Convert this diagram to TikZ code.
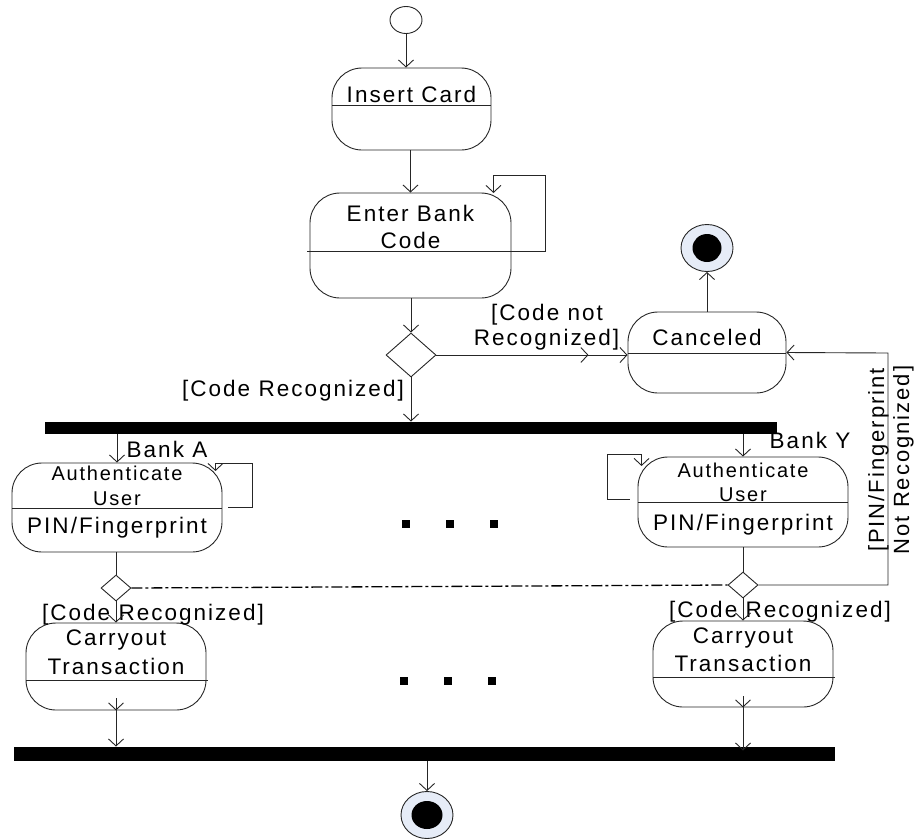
\documentclass[tikz,border=0pt]{standalone}
\usepackage{fontspec}
\setmainfont{Liberation Sans}[LetterSpace=9]
\usetikzlibrary{arrows.meta,shapes.geometric}
\definecolor{finfill}{HTML}{E6ECF7}
\definecolor{ln}{HTML}{262626}
\begin{document}
\begin{tikzpicture}[x=1pt,y=-1pt,
  every path/.style={line width=0.9pt},
  >={Straight Barb[length=7pt,width=15pt]},
  act/.style={draw=ln,line width=0.9pt,rounded corners=30pt,inner sep=0pt},
  txt/.style={inner sep=0pt,anchor=base,font=\fontsize{22.5pt}{27pt}\selectfont},
  stxt/.style={inner sep=0pt,anchor=base,font=\fontsize{20pt}{24pt}\selectfont},
  dec/.style={draw=ln,line width=0.9pt,diamond,inner sep=0pt,minimum width=30pt,minimum height=26pt},
  bar/.style={fill=black,draw=none,inner sep=0pt},
  dotbox/.style={fill=black,draw=none,inner sep=0pt,minimum size=8pt},
  fin/.style={draw=ln,line width=0.9pt,ellipse,fill=finfill,inner sep=0pt,minimum width=52pt,minimum height=47pt},
  dashdot/.style={black,line width=1.3pt,dash pattern=on 11pt off 3pt on 3pt off 3pt}
]
\useasboundingbox (0,0) rectangle (915,839);

% initial state
\node[draw=ln,line width=0.9pt,ellipse,inner sep=0pt,minimum width=32pt,minimum height=27pt] (init) at (406,20) {};

% Insert Card
\node[act,minimum width=159pt,minimum height=82pt] (insert) at (411.5,109) {};
\draw[ln] (332,105) -- (491,105);
\node[txt] (insertT) at (411.5,102) {Insert Card};

% Enter Bank Code
\node[act,minimum width=201pt,minimum height=105pt] (enter) at (410.5,245.5) {};
\draw[ln] (307,251) -- (511,251);
\node[txt] (enterT1) at (410.5,221) {Enter Bank};
\node[txt] (enterT2) at (410.5,248) {Code};

% decision 1
\node[dec,minimum width=50pt,minimum height=44pt] (d1) at (411,355) {};

% Canceled
\node[act,minimum width=158pt,minimum height=81pt] (cancel) at (707,352.5) {};
\draw[ln] (628,353) -- (786,353);
\node[txt] (cancelT) at (707,345) {Canceled};

% final state top
\node[fin] (fin1) at (707,248) {};
\fill[black] (fin1.center) ellipse [x radius=14.5pt,y radius=14pt];

% labels near decision 1
\node[txt] (cnr1) at (547,320) {[Code not};
\node[txt] (cnr2) at (546.5,345) {Recognized]};
\node[txt] (cr1) at (293,396) {[Code Recognized]};

% fork bar
\node[bar,minimum width=732pt,minimum height=12pt] (bar1) at (411,428) {};

% Authenticate A
\node[act,minimum width=210pt,minimum height=89pt] (authA) at (117,507.5) {};
\draw[ln] (12,508) -- (222,508);
\node[stxt] (authAT1) at (117,480) {Authenticate};
\node[stxt] (authAT2) at (117,505.5) {User};
\node[txt] (authAT3) at (117,533) {PIN/Fingerprint};
\node[txt] (bankA) at (167,457) {Bank A};

% Authenticate Y
\node[act,minimum width=210pt,minimum height=90pt] (authY) at (743,502) {};
\draw[ln] (638,502) -- (848,502);
\node[stxt] (authYT1) at (743,477) {Authenticate};
\node[stxt] (authYT2) at (743,501) {User};
\node[txt] (authYT3) at (743,530) {PIN/Fingerprint};
\node[txt] (bankY) at (810,448) {Bank Y};

% decisions A and Y
\node[dec] (dA) at (116,588) {};
\node[dec] (dY) at (743,585) {};

% Carryout A
\node[act,minimum width=180pt,minimum height=87pt] (carryA) at (116,666.5) {};
\draw[ln] (26,680) -- (208,680);
\node[txt] (carryAT1) at (116,645) {Carryout};
\node[txt] (carryAT2) at (116,674) {Transaction};
\node[txt] (crA) at (153,620) {[Code Recognized]};

% Carryout Y
\node[act,minimum width=180pt,minimum height=86pt] (carryY) at (743,664) {};
\draw[ln] (653,677) -- (835,677);
\node[txt] (carryYT1) at (743,643) {Carryout};
\node[txt] (carryYT2) at (743,671) {Transaction};
\node[txt] (crY) at (780,617) {[Code Recognized]};

% join bar
\node[bar,minimum width=821pt,minimum height=14pt] (bar2) at (424.5,754) {};

% final state bottom
\node[fin] (fin2) at (427,815) {};
\fill[black] (fin2.center) ellipse [x radius=15.5pt,y radius=14pt];

% dots
\node[dotbox] (e1) at (406,524) {};
\node[dotbox] (e2) at (450,524) {};
\node[dotbox] (e3) at (494,524) {};
\node[dotbox] (e4) at (404,681) {};
\node[dotbox] (e5) at (448,681) {};
\node[dotbox] (e6) at (492,681) {};

% vertical label
\node[inner sep=0pt,anchor=center,rotate=90,align=center,font=\fontsize{22pt}{25pt}\selectfont] (pnr) at (891,460) {[PIN/Fingerprint\\Not Recognized]};

% connectors
\begin{scope}[ln]
\draw[->] (init.south) -- (init.south |- insert.north);
\draw[->] (insert.south -| enter.north) -- (enter.north);
\draw[->] ([yshift=-5.5pt]enter.east) -- ++(34,0) -- ++(0,-76) -- ++(-52,0) -- ++(0,18);
\draw[->] (enter.south -| d1.north) -- (d1.north);
\draw[->] (d1.east) -- ++(152,0);
\draw[->] (d1.east) -- (d1.east -| cancel.west);
\draw[->] (d1.south) -- (d1.south |- bar1.north);
\draw[->] (cancel.north) -- (fin1.south);

\draw[->] (authA.north |- bar1.south) -- (authA.north);
\draw[->] ([xshift=6pt,yshift=0.5pt]authA.east) -- ++(24,0) -- ++(0,-44) -- ++(-37,0) -- ++(0,8);
\draw[->] (authY.north |- bar1.south) -- (authY.north);
\draw[->] ([xshift=-8pt,yshift=3pt]authY.west) -- ++(-22,0) -- ++(0,-45) -- ++(34,0) -- ++(0,12);

\draw (authA.south -| dA.north) -- (dA.north);
\draw (authY.south) -- (dY.north);
\draw[dashdot] (dA.east) -- (dY.west);
\coordinate (cr) at (888,353);
\draw[->] (dY.east) -| (cr) -- (cancel.east);

\draw[->] (dA.south) -- (carryA.north);
\draw[->] (dY.south) -- (carryY.north);
\draw[->] ([yshift=12pt]carryA.south) -- (carryA.south);
\draw[->] ([yshift=12pt]carryA.south) -- (carryA.south |- bar2.north);
\draw[->] ([yshift=11pt]carryY.south) -- (carryY.south);
\draw[->] ([yshift=11pt]carryY.south) -- ([yshift=-4pt]carryY.south |- bar2.north);
\draw[->] (fin2.north |- bar2.south) -- (fin2.north);
\end{scope}
\end{tikzpicture}
\end{document}
